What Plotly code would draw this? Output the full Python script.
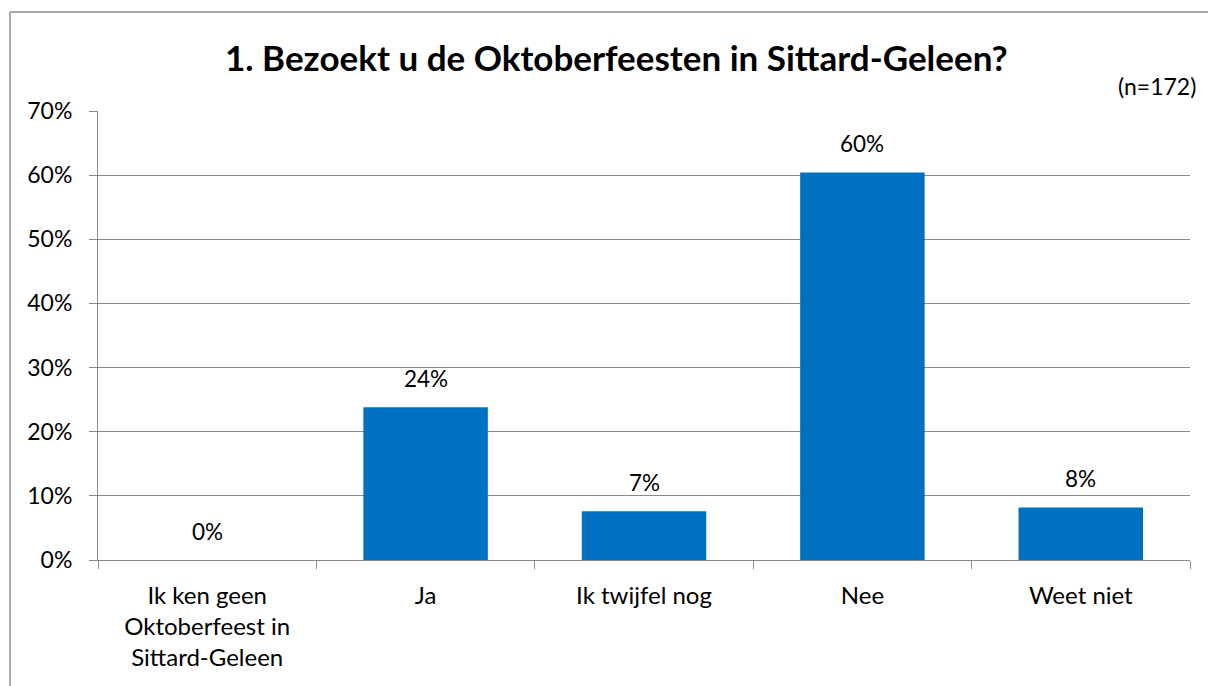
import plotly.graph_objects as go

categories = ["Ik ken geen<br>Oktoberfeest in<br>Sittard-Geleen", "Ja", "Ik twijfel nog", "Nee", "Weet niet"]
values = [0.0, 23.8, 7.6, 60.4, 8.2]
value_labels = ["0%", "24%", "7%", "60%", "8%"]
y_ticks = [0, 10, 20, 30, 40, 50, 60, 70]
y_tick_labels = ["0%", "10%", "20%", "30%", "40%", "50%", "60%", "70%"]
title_text = "1. Bezoekt u de Oktoberfeesten in Sittard-Geleen?"
n_text = "(n=172)"

FONT = "Lato"
GRID = "#8a8a8a"
BLUE = "#0070C0"

W, H = 1208, 686
L, R, T, B = 98, 1190, 111, 560

def px_x(px):
    return (px - L) / (R - L)

def px_y(py):
    return (B - py) / (B - T)

fig = go.Figure()
fig.add_trace(go.Bar(x=categories, y=values, marker=dict(color=BLUE, line=dict(width=0)),
                     hoverinfo="skip"))

annotations = []
for c, v, t in zip(categories, values, value_labels):
    annotations.append(dict(x=c, y=v, xref="x", yref="y", text=t, showarrow=False,
                            yanchor="middle", yshift=29,
                            font=dict(family=FONT, size=22.5, color="#000000")))
annotations.append(dict(x=px_x(616), y=px_y(57), xref="paper", yref="paper", text="<b>" + title_text + "</b>",
                        showarrow=False, xanchor="center", yanchor="middle",
                        font=dict(family=FONT, size=35, color="#000000")))
annotations.append(dict(x=px_x(1198), y=px_y(86), xref="paper", yref="paper", text=n_text,
                        showarrow=False, xanchor="right", yanchor="middle",
                        font=dict(family=FONT, size=23, color="#000000")))

border = dict(color="#8c8c8c", width=1.5)
fig.update_layout(
    width=W, height=H,
    margin=dict(l=L, r=W - R, t=T, b=H - B, pad=0),
    paper_bgcolor="white", plot_bgcolor="white",
    showlegend=False,
    bargap=0.43,
    annotations=annotations,
    shapes=[
        dict(type="line", xref="paper", yref="paper", x0=px_x(10), x1=px_x(1208),
             y0=px_y(12), y1=px_y(12), line=border, layer="below"),
        dict(type="line", xref="paper", yref="paper", x0=px_x(10), x1=px_x(10),
             y0=px_y(12), y1=px_y(686), line=border, layer="below"),
    ],
    font=dict(family=FONT, size=22, color="#000000"),
)
fig.update_xaxes(type="category", showgrid=False, showline=True, linecolor=GRID, linewidth=1,
                 ticks="outside", tickson="boundaries", ticklen=8, tickcolor=GRID, tickwidth=1,
                 tickfont=dict(family=FONT, size=24, color="#000000"), ticklabelstandoff=14,
                 zeroline=False)
fig.update_yaxes(range=[0, 70], tickvals=y_ticks, ticktext=y_tick_labels, showgrid=True,
                 gridcolor=GRID, gridwidth=1, showline=True, linecolor=GRID, linewidth=1,
                 ticks="outside", ticklen=8, tickcolor=GRID, tickwidth=1,
                 tickfont=dict(family=FONT, size=23, color="#000000"), ticklabelstandoff=12,
                 zeroline=False)

fig.write_html("out.html", config={"displayModeBar": False},
               post_script="document.body.style.margin='0';document.body.style.overflow='hidden';")
